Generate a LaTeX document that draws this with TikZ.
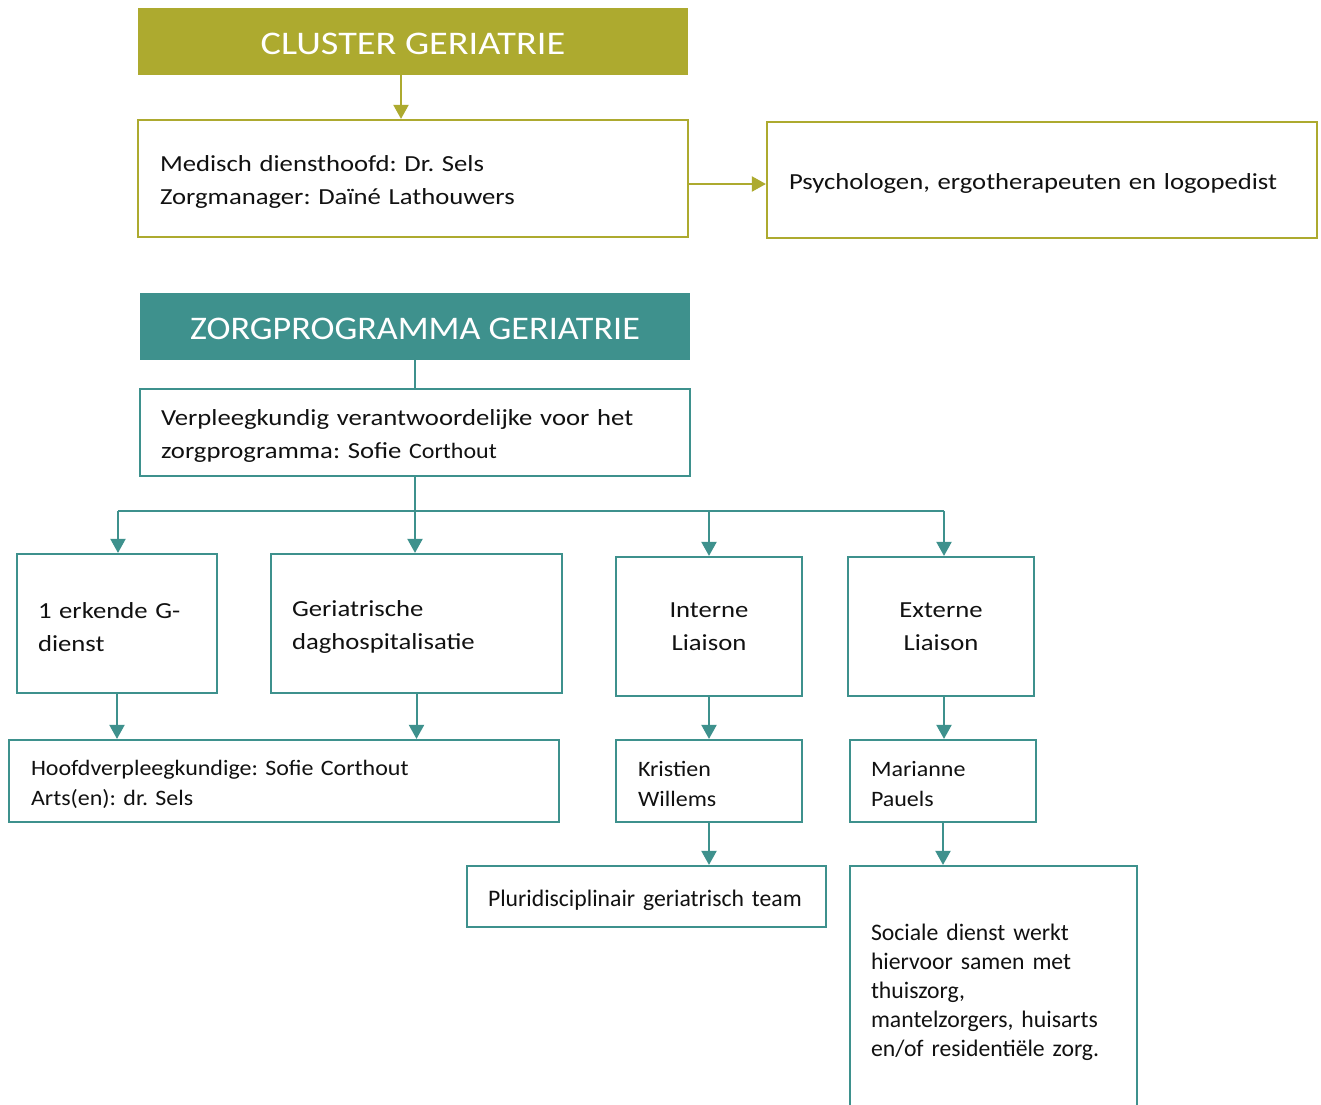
\documentclass[tikz,border=0pt]{standalone}
\usepackage{fontspec}
\usetikzlibrary{arrows.meta}
\newfontfamily\fw[FakeStretch=1.16]{Carlito}
\newfontfamily\fz[FakeStretch=1.095]{Carlito}
\newfontfamily\fm[FakeStretch=1.09]{Carlito}
\newfontfamily\fn{Carlito}
\definecolor{olive}{HTML}{ADAA2F}
\definecolor{teal}{HTML}{3E918D}
\definecolor{txt}{HTML}{111111}
\tikzset{
  hdr/.style={fill=#1, draw=none, text=white, minimum width=550pt, minimum height=67pt, inner sep=0pt,
    execute at begin node={\rule{0pt}{0.77em}}},
  bx/.style={draw=#1, line width=2.2pt, text=txt, inner xsep=0pt, inner ysep=0pt, align=left,
    execute at begin node={\rule{0pt}{1.0em}}},
  tl/.style={teal, line width=2pt},
  ol/.style={olive, line width=2pt},
  tarr/.style={tl, -{Triangle[width=15pt,length=14pt]}},
  oarr/.style={ol, -{Triangle[width=15pt,length=14pt]}},
  mainf/.style={font=\fw\fontsize{23}{33}\selectfont},
  midf/.style={font=\fm\fontsize{22}{30}\selectfont},
  narf/.style={font=\fn\fontsize{23.7}{29}\selectfont},
}
\frenchspacing
\begin{document}
\begin{tikzpicture}[x=1pt,y=-1pt]
\useasboundingbox (0,0) rectangle (1321,1104);
\clip (0,0) rectangle (1321,1104);
\fill[white] (0,0) rectangle (1321,1104);

% cluster part
\node[hdr=olive, font=\fw\fontsize{33}{40}\selectfont] (hdr1) at (413,41.5) {CLUSTER GERIATRIE};
\node[bx=olive, mainf, minimum width=550pt, minimum height=117pt, text width=506pt] (b1) at (413,178.5)
  {Medisch diensthoofd: Dr. Sels\\Zorgmanager: Daïné Lathouwers};
\node[bx=olive, mainf, minimum width=550pt, minimum height=116pt, text width=506pt] (psy) at (1042,180)
  {Psychologen, ergotherapeuten en logopedist};
\draw[oarr] ([xshift=-12pt]hdr1.south) -- ([xshift=-12pt]b1.north);
\draw[oarr] ([yshift=-5.5pt]b1.east) -- ([yshift=-5.5pt]b1.east -| psy.west);

% zorgprogramma part
\node[hdr=teal, font=\fz\fontsize{33}{40}\selectfont] (hdr2) at (415,326.5) {ZORGPROGRAMMA GERIATRIE};
\node[bx=teal, mainf, minimum width=550pt, minimum height=87pt, text width=508pt] (verp) at (415,432.5)
  {Verpleegkundig verantwoordelijke voor het\\zorgprogramma: Sofie {\fm\fontsize{22}{33}\selectfont Corthout}};
\draw[tl] (hdr2.south) -- (verp.north);

\node[bx=teal, mainf, minimum width=200pt, minimum height=139pt, text width=158pt] (gd) at (117,623.5)
  {1 erkende G-\\dienst};
\node[bx=teal, mainf, minimum width=291pt, minimum height=139pt, text width=249pt] (dag) at (416.5,623.5)
  {Geriatrische\\daghospitalisatie};
\node[bx=teal, mainf, minimum width=186pt, minimum height=139pt, align=center] (int) at (709,626.5)
  {Interne\\Liaison};
\node[bx=teal, mainf, minimum width=186pt, minimum height=139pt, align=center] (ext) at (941,626.5)
  {Externe\\Liaison};

\coordinate (j) at (415,511);
\coordinate (jl) at (118,511);
\coordinate (jr) at (944,511);
\draw[tl] (verp.south) -- (j);
\draw[tl] (jl) -- (jr);
\draw[tarr] (jl) -- (jl |- gd.north);
\draw[tarr] (j) -- (j |- dag.north);
\draw[tarr] (j -| int.north) -- (int.north);
\draw[tarr] (jr) -- (jr |- ext.north);

\node[bx=teal, midf, minimum width=550pt, minimum height=82pt, text width=506pt] (hv) at (284,781)
  {Hoofdverpleegkundige: Sofie Corthout\\Arts(en): dr. Sels};
\node[bx=teal, midf, minimum width=186pt, minimum height=82pt, text width=142pt] (kw) at (709,781)
  {Kristien\\Willems};
\node[bx=teal, midf, minimum width=186pt, minimum height=82pt, text width=144pt] (mp) at (943,781)
  {Marianne\\Pauels};
\draw[tarr] (gd.south) -- (gd.south |- hv.north);
\draw[tarr] (dag.south) -- (dag.south |- hv.north);
\draw[tarr] (int.south) -- (kw.north);
\draw[tarr] ([xshift=3pt]ext.south) -- ([xshift=3pt]ext.south |- mp.north);

\node[bx=teal, narf, minimum width=359pt, minimum height=61pt, text width=317pt] (pl) at (646.5,896.5)
  {Pluridisciplinair geriatrisch team};
\node[bx=teal, narf, minimum width=287pt, minimum height=246pt, text width=245pt] (soc) at (993.5,989)
  {Sociale dienst werkt\\hiervoor samen met\\thuiszorg,\\mantelzorgers, huisarts\\en/of residentiële zorg.};
\draw[tarr] (kw.south) -- (kw.south |- pl.north);
\draw[tarr] (mp.south) -- (mp.south |- soc.north);
\end{tikzpicture}
\end{document}
